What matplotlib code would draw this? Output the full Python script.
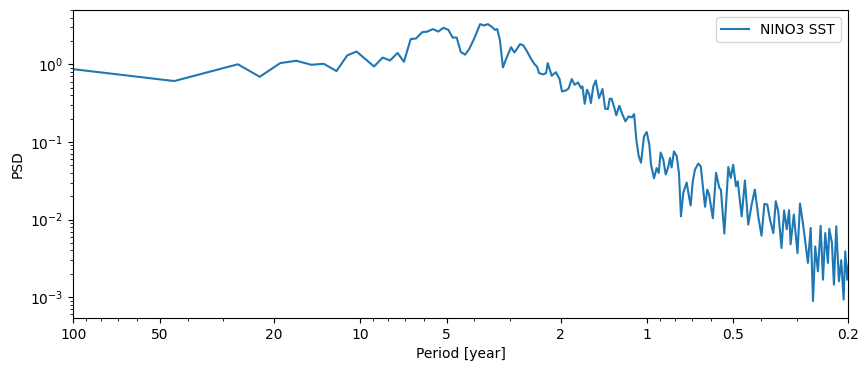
import numpy as np
from matplotlib import pyplot as plt
from matplotlib.ticker import NullFormatter

# periods (years) and power spectral density
period = [133.5, 44.5, 26.7, 22.4, 19.0, 16.7, 14.8, 13.4, 12.1, 11.1, 10.3, 8.95, 8.35, 7.87,
          7.41, 7.04, 6.67, 6.39, 6.07, 5.86, 5.59, 5.34, 5.13, 4.93, 4.76, 4.61, 4.46, 4.31,
          4.17, 4.00, 3.82, 3.70, 3.59, 3.48, 3.39, 3.33, 3.26, 3.18, 3.11, 3.05, 2.98, 2.90,
          2.77, 2.70, 2.62, 2.54, 2.46, 2.42, 2.38, 2.30, 2.25, 2.22, 2.15, 2.08, 2.02, 1.98,
          1.92, 1.88, 1.83, 1.79, 1.74, 1.70, 1.68, 1.65, 1.62, 1.59, 1.57, 1.54, 1.51, 1.47,
          1.43, 1.40, 1.37, 1.35, 1.33, 1.30, 1.28, 1.25, 1.22, 1.19, 1.16, 1.13, 1.11, 1.09,
          1.07, 1.05, 1.025, 1.003, 0.982, 0.969, 0.946, 0.926, 0.911, 0.897, 0.878, 0.861,
          0.843, 0.832, 0.821, 0.806, 0.788, 0.774, 0.762, 0.748, 0.728, 0.713, 0.705, 0.693,
          0.681, 0.663, 0.650, 0.628, 0.617, 0.608, 0.590, 0.575, 0.560, 0.553, 0.538, 0.521,
          0.511, 0.501, 0.490, 0.483, 0.468, 0.456, 0.444, 0.432, 0.421, 0.409, 0.399, 0.390,
          0.381, 0.373, 0.363, 0.356, 0.349, 0.340, 0.333, 0.326, 0.320, 0.316, 0.308, 0.299,
          0.293, 0.287, 0.282, 0.275, 0.269, 0.264, 0.2594, 0.2538, 0.2483, 0.2437, 0.2393,
          0.2342, 0.2317, 0.2268, 0.2232, 0.2191, 0.2144, 0.2105, 0.2065, 0.2038, 0.2006, 0.195]
psd = [0.98, 0.608, 1.0, 0.69, 1.036, 1.11, 0.985, 1.015, 0.817, 1.30, 1.46, 0.937, 1.22, 1.12,
       1.40, 1.077, 2.11, 2.15, 2.60, 2.62, 2.84, 2.64, 2.95, 2.78, 2.21, 2.21, 1.44, 1.33,
       1.57, 2.17, 3.29, 3.16, 3.29, 3.04, 2.78, 2.84, 2.07, 0.91, 1.14, 1.35, 1.66, 1.42,
       1.82, 1.75, 1.46, 1.18, 0.985, 0.937, 0.77, 0.74, 0.77, 1.036, 0.711, 0.79, 0.65, 0.447,
       0.46, 0.484, 0.645, 0.545, 0.583, 0.494, 0.518, 0.310, 0.47, 0.405, 0.317, 0.518, 0.619, 0.367,
       0.48, 0.268, 0.265, 0.36, 0.36, 0.273, 0.22, 0.292, 0.228, 0.184, 0.213, 0.207, 0.228, 0.107,
       0.066, 0.054, 0.118, 0.134, 0.092, 0.051, 0.034, 0.046, 0.040, 0.073, 0.059, 0.038,
       0.048, 0.062, 0.047, 0.0755, 0.065, 0.039, 0.011, 0.022, 0.030, 0.019, 0.0152, 0.031,
       0.044, 0.0526, 0.0484, 0.0146, 0.0243, 0.021, 0.0104, 0.040, 0.0256, 0.0243, 0.0066, 0.0475,
       0.0343, 0.0508, 0.0268, 0.031, 0.011, 0.0319, 0.0086, 0.0156, 0.0243, 0.0105, 0.0062, 0.0159,
       0.0156, 0.0100, 0.0067, 0.0172, 0.0128, 0.0043, 0.0131, 0.0075, 0.0132, 0.0048, 0.0116, 0.0037,
       0.0161, 0.0095, 0.0058, 0.00276, 0.0078, 0.00089, 0.0045, 0.00215, 0.0083, 0.00168, 0.0067,
       0.00276, 0.0076, 0.0050, 0.00145, 0.0082, 0.0016, 0.0030, 0.00093, 0.0039, 0.00168, 0.005]

xticks = [100, 50, 20, 10, 5, 2, 1, 0.5, 0.2]
xticklabels = ["100", "50", "20", "10", "5", "2", "1", "0.5", "0.2"]

fig = plt.figure(figsize=(8.68, 3.71), dpi=100)
ax = fig.add_axes([0.0845, 0.143, 0.892, 0.83])
ax.plot(period, psd, color="C0", label="NINO3 SST")
ax.set_xscale("log")
ax.set_yscale("log")
ax.set_xlim(100, 0.2)
ax.set_ylim(5.4e-4, 5.0)
ax.set_xticks(xticks)
ax.set_xticklabels(xticklabels)
ax.xaxis.set_minor_formatter(NullFormatter())
ax.set_xlabel("Period [year]")
ax.set_ylabel("PSD")
ax.legend(loc="upper right")

fig.savefig("out.png", dpi=100)
